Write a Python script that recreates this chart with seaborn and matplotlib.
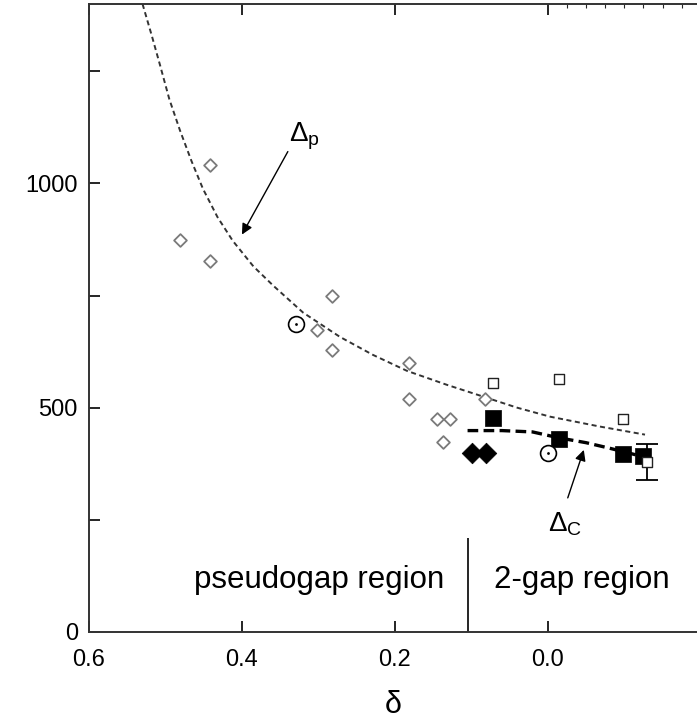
import matplotlib
matplotlib.use("Agg")
import matplotlib.pyplot as plt
import seaborn as sns
import pandas as pd

# open diamonds (pseudogap, tunnelling etc.)
open_dia_x = [0.481, 0.442, 0.442, 0.282, 0.302, 0.282, 0.182, 0.182, 0.145, 0.128, 0.137, 0.082]
open_dia_y = [875, 1042, 826, 750, 674, 629, 600, 520, 475, 475, 424, 520]

# filled diamonds
fill_dia_x = [0.099, 0.081]
fill_dia_y = [400, 400]

# open squares
open_sq_x = [0.072, -0.014, -0.098, -0.129]
open_sq_y = [556, 565, 475, 380]

# filled squares
fill_sq_x = [0.072, -0.014, -0.098, -0.125]
fill_sq_y = [478, 431, 397, 392]

# dotted circles
circ_x = [0.329, 0.0]
circ_y = [687, 398]

# error bar on the last open square
err_x = [-0.129]
err_y = [380]
err_lo = [41]
err_hi = [40]

# Delta_p curve
dp_x = [0.530, 0.518, 0.507, 0.495, 0.481, 0.466, 0.451, 0.432, 0.412, 0.385, 0.359, 0.320,
        0.272, 0.229, 0.184, 0.132, 0.085, 0.040, -0.003, -0.068, -0.127]
dp_y = [1400, 1330, 1263, 1188, 1118, 1050, 988, 925, 872, 815, 772, 712,
        658, 618, 582, 551, 525, 500, 480, 458, 440]

# Delta_c curve
dc_x = [0.105, 0.060, 0.020, -0.014, -0.050, -0.080, -0.115]
dc_y = [449, 449, 446, 433, 422, 410, 395]

region_split = 0.105

sns.set_style("ticks")
plt.rcParams['font.family'] = ['Liberation Sans', 'DejaVu Sans']
plt.rcParams['mathtext.fontset'] = 'custom'
plt.rcParams['mathtext.rm'] = 'Liberation Sans'
plt.rcParams['mathtext.it'] = 'Liberation Sans:italic'
plt.rcParams['text.color'] = 'black'
plt.rcParams['axes.labelcolor'] = 'black'

fig = plt.figure(figsize=(6.97, 7.24), dpi=100)
ax = fig.add_axes([89 / 697, 92 / 724, 608 / 697, 628 / 724])

dp = pd.DataFrame({"x": dp_x, "y": dp_y})
dc = pd.DataFrame({"x": dc_x, "y": dc_y})
sns.lineplot(data=dp, x="x", y="y", ax=ax, sort=False, color="#333333",
             lw=1.4, linestyle=(0, (2.6, 1.8)))
sns.lineplot(data=dc, x="x", y="y", ax=ax, sort=False, color="black",
             lw=2.4, linestyle=(0, (3.2, 1.6)))

sns.scatterplot(x=open_dia_x, y=open_dia_y, ax=ax, marker="D", s=42,
                facecolor="white", edgecolor="#7a7a7a", linewidth=1.3, zorder=3)
sns.scatterplot(x=fill_dia_x, y=fill_dia_y, ax=ax, marker="D", s=110,
                color="black", edgecolor="black", linewidth=0.5, zorder=3)
ax.errorbar(err_x, err_y, yerr=[err_lo, err_hi], fmt="none", ecolor="black",
            elinewidth=1.3, capsize=8, capthick=1.3, zorder=2)
sns.scatterplot(x=fill_sq_x, y=fill_sq_y, ax=ax, marker="s", s=120,
                color="black", edgecolor="black", linewidth=0.5, zorder=3)
sns.scatterplot(x=open_sq_x, y=open_sq_y, ax=ax, marker="s", s=58,
                facecolor="white", edgecolor="#222222", linewidth=1.0, zorder=4)
sns.scatterplot(x=circ_x, y=circ_y, ax=ax, marker="o", s=130,
                facecolor="white", edgecolor="black", linewidth=1.2, zorder=3)
sns.scatterplot(x=circ_x, y=circ_y, ax=ax, marker="o", s=4,
                color="black", edgecolor="black", linewidth=0, zorder=4)

ax.vlines(region_split, 0, 210, color="black", lw=1.2)
ax.text(0.299, 116, "pseudogap region", ha="center", va="center", fontsize=22.5)
ax.text(-0.044, 116, "2-gap region", ha="center", va="center", fontsize=22.5)

ax.annotate("", xy=(0.400, 886), xytext=(0.340, 1071),
            arrowprops=dict(arrowstyle="-|>", color="black", lw=1.0,
                            mutation_scale=16, shrinkA=0, shrinkB=0))
ax.text(0.318, 1105, r"$\Delta_\mathrm{p}$", ha="center", va="center", fontsize=20)
ax.annotate("", xy=(-0.047, 406), xytext=(-0.026, 299),
            arrowprops=dict(arrowstyle="-|>", color="black", lw=1.0,
                            mutation_scale=16, shrinkA=0, shrinkB=0))
ax.text(-0.022, 240, r"$\Delta_\mathrm{C}$", ha="center", va="center", fontsize=20)

ax.set_xlim(0.6, -0.195)
ax.set_ylim(0, 1400)
ax.set_xticks([0.6, 0.4, 0.2, 0.0])
ax.set_xticklabels(["0.6", "0.4", "0.2", "0.0"])
ax.set_xticks([-0.025, -0.05, -0.075, -0.1, -0.125, -0.15, -0.175], minor=True)
ax.set_yticks([0, 250, 500, 750, 1000, 1250])
ax.set_yticklabels(["0", "", "500", "", "1000", ""])

ax.tick_params(which="major", direction="in", length=8, width=1.2,
               top=True, right=False, labelsize=17, colors="black")
ax.tick_params(axis="x", which="major", pad=12)
ax.tick_params(axis="y", which="major", pad=8)
ax.tick_params(axis="x", which="minor", direction="in", length=3, width=0.8,
               bottom=False, top=True)
ax.tick_params(axis="y", which="minor", left=False)

for side in ["left", "bottom", "top"]:
    ax.spines[side].set_linewidth(1.4)
    ax.spines[side].set_color("#333333")
ax.spines["right"].set_visible(False)

ax.set_xlabel("δ", fontsize=22, labelpad=14)
ax.set_ylabel("")

fig.savefig("out.png", dpi=100)
